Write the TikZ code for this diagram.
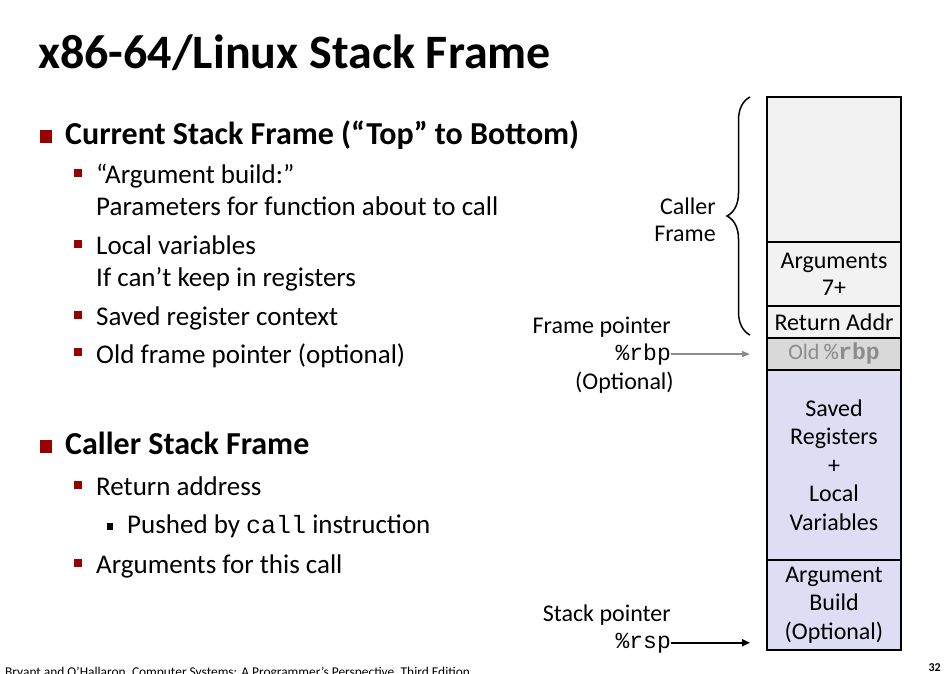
\documentclass[tikz,border=0pt]{standalone}
\usepackage{fontspec}
\setmainfont{Carlito}
\setmonofont{Liberation Mono}
\usepackage{xcolor}
\usetikzlibrary{arrows.meta, positioning, calc, decorations.pathreplacing}

\definecolor{bulletred}{RGB}{153,0,0}
\definecolor{callerfill}{RGB}{242,242,242}
\definecolor{oldfill}{RGB}{217,217,217}
\definecolor{oldtext}{RGB}{140,140,140}
\definecolor{calleefill}{RGB}{221,221,244}

\tikzset{
  slot/.style={draw=black, line width=2pt, minimum width=134pt, inner sep=0pt, outer sep=0pt,
    align=center, font=\fontsize{24}{28.5}\selectfont},
  lone/.style={anchor=base west, inner sep=0pt, font=\fontsize{27}{30}\selectfont},
  ltop/.style={anchor=base west, inner sep=0pt, font=\fontsize{32}{34}\bfseries\selectfont},
  side/.style={inner sep=0pt, font=\fontsize{24}{27}\selectfont}
}

\begin{document}
\begin{tikzpicture}[x=1pt, y=1pt]
\useasboundingbox (0,0) rectangle (944,-673);

% title
\node[anchor=base west, inner sep=0pt, font=\fontsize{48}{50}\bfseries\selectfont] (title) at (38,-68) {x86-64/Linux Stack Frame};

% current frame bullets
\fill[bulletred] (40,-130) rectangle (52,-143);
\node[ltop] (cur) at (65,-144) {Current Stack Frame (“Top” to Bottom)};
\foreach \y in {169,240,311,348} \fill[bulletred] (74,-\y) rectangle (82,-\y-8);
\node[lone] (argb) at (96,-183) {“Argument build:”};
\node[lone] (param) at (96,-215) {Parameters for function about to call};
\node[lone] (locv) at (96,-254) {Local variables};
\node[lone] (ifc) at (96,-286) {If can’t keep in registers};
\node[lone] (savr) at (96,-325) {Saved register context};
\node[lone] (oldfp) at (96,-363) {Old frame pointer (optional)};

% caller frame bullets
\fill[bulletred] (40,-440) rectangle (52,-453);
\node[ltop] (caller) at (65,-454) {Caller Stack Frame};
\foreach \y in {481,559} \fill[bulletred] (74,-\y) rectangle (82,-\y-8);
\node[lone] (reta) at (96,-495) {Return address};
\fill[black] (107,-523) rectangle (113,-530);
\node[lone] (push) at (127,-533) {Pushed by \texttt{\fontsize{25}{28}\selectfont call} instruction};
\node[lone] (args) at (96,-573) {Arguments for this call};

% the stack
\node[slot, fill=callerfill, minimum height=145pt, anchor=north west] (top) at (767,-97) {};
\node[slot, fill=callerfill, minimum height=64pt, below=0pt of top, font=\fontsize{24}{27}\selectfont] (arg7) {Arguments\\7+};
\node[slot, fill=callerfill, minimum height=32pt, below=0pt of arg7] (ret) {Return Addr};
\node[slot, fill=oldfill, minimum height=32pt, below=0pt of ret, text=oldtext, font=\fontsize{22}{28}\selectfont] (old) {Old \texttt{\fontsize{23}{28}\selectfont\%\textbf{rbp}}};
\node[slot, fill=calleefill, minimum height=190pt, below=0pt of old] (saved) {Saved\\Registers\\+\\Local\\Variables};
\node[slot, fill=calleefill, minimum height=90pt, below=0pt of saved] (build) {Argument\\Build\\(Optional)};

% caller brace
\draw[line width=1.5pt, decorate, decoration={brace, amplitude=23pt}] (750,-335) -- (750,-97);
\node[side, align=right, anchor=east] (cfr) at (716,-220) {Caller\\Frame};

% frame pointer
\node[side, anchor=base east] (fplab) at (671,-333) {Frame pointer};
\node[anchor=base east, inner sep=0pt, font=\ttfamily\fontsize{23}{28}\selectfont] (rbp) at (671,-360) {\%rbp};
\node[side, anchor=base east] (fpopt) at (674,-389) {(Optional)};
\draw[oldtext, line width=1.5pt, -{Triangle[length=8pt, width=6pt]}, shorten >=17pt] (rbp.east) -- (rbp.east -| old.west);

% stack pointer
\node[side, anchor=base east] (splab) at (671,-621) {Stack pointer};
\node[anchor=base east, inner sep=0pt, font=\ttfamily\fontsize{23}{28}\selectfont] (rsp) at (671,-648) {\%rsp};
\draw[black, line width=2pt, -{Triangle[length=8pt, width=7pt]}, shorten >=17pt] (rsp.east) -- (rsp.east -| build.west);

% footer
\node[anchor=base west, inner sep=0pt, font=\fontsize{13.4}{15}\selectfont] (foot) at (5,-676) {Bryant and O’Hallaron, Computer Systems: A Programmer’s Perspective, Third Edition};
\node[anchor=base east, inner sep=0pt, font=\fontsize{12}{14}\bfseries\selectfont] (pgno) at (941,-671) {32};
\end{tikzpicture}
\end{document}
